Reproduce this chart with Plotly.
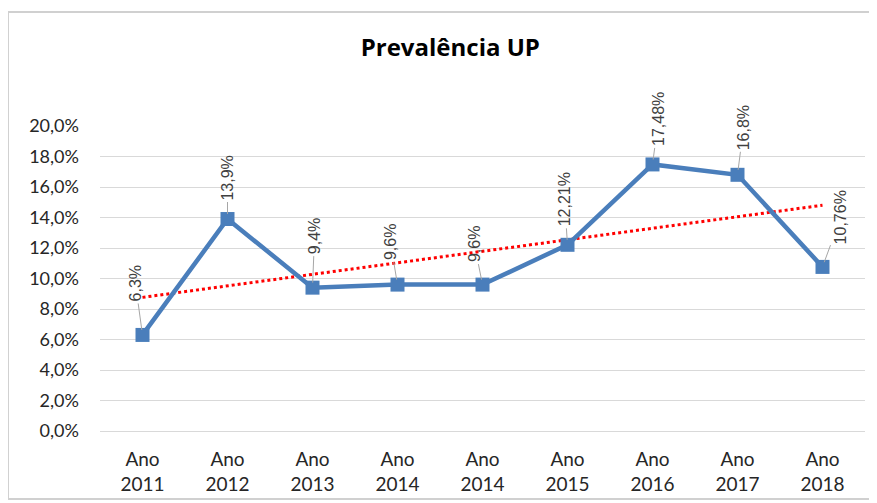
import numpy as np
import plotly.graph_objects as go

categories = ["Ano 2011", "Ano 2012", "Ano 2013", "Ano 2014", "Ano 2014",
              "Ano 2015", "Ano 2016", "Ano 2017", "Ano 2018"]
values = [6.3, 13.9, 9.4, 9.6, 9.6, 12.21, 17.48, 16.8, 10.76]
value_labels = ["6,3%", "13,9%", "9,4%", "9,6%", "9,6%", "12,21%", "17,48%", "16,8%", "10,76%"]
y_ticks = [0, 2, 4, 6, 8, 10, 12, 14, 16, 18, 20]
y_tick_labels = ["0,0%", "2,0%", "4,0%", "6,0%", "8,0%", "10,0%", "12,0%",
                 "14,0%", "16,0%", "18,0%", "20,0%"]
title = "Prevalência UP"

# label offsets (pixels) for the rotated data labels
label_dx = [-7, 0, 2, -7, -8, -3, 6, 6, 18]
label_dy = [-51, -41, -51, -42, -40, -45, -45, -47, -49]

x = list(range(len(categories)))
tick_text = [c.replace(" ", "<br>") for c in categories]

slope, intercept = np.polyfit(x, values, 1)
trend = [slope * xi + intercept for xi in x]

fig = go.Figure()
fig.add_trace(go.Scatter(
    x=x, y=trend, mode="lines",
    line=dict(color="#ff0000", width=3, dash="dot"),
    hoverinfo="skip", showlegend=False))
fig.add_trace(go.Scatter(
    x=x, y=values, mode="lines+markers",
    line=dict(color="#4a7ebb", width=4.5),
    marker=dict(symbol="square", size=14, color="#4a7ebb"),
    showlegend=False))

for xi, v, lab, dx, dy in zip(x, values, value_labels, label_dx, label_dy):
    fig.add_annotation(
        x=xi, y=v, xref="x", yref="y", text=lab, textangle=-90,
        showarrow=True, arrowhead=0, arrowwidth=1, arrowcolor="#a6a6a6",
        ax=dx, ay=dy, standoff=5,
        font=dict(family="Liberation Sans, Arial, sans-serif", size=16, color="#404040"))

fig.add_shape(type="rect", xref="paper", yref="paper",
              x0=-0.1203, x1=1.0144, y0=-0.223, y1=1.3738,
              line=dict(color="#d0d0d0", width=2), layer="below")

fig.update_layout(
    width=869, height=495,
    margin=dict(l=92, r=12, t=118, b=72),
    paper_bgcolor="white", plot_bgcolor="white",
    title=dict(text="<b>" + title + "</b>", x=0.509, xanchor="center", y=0.921, yanchor="middle",
               font=dict(family="Open Sans, sans-serif", size=24, color="#000000")),
    font=dict(family="Lato, sans-serif"),
)
fig.update_xaxes(
    range=[-0.5, len(categories) - 0.5], tickmode="array", tickvals=x, ticktext=tick_text,
    showgrid=False, showline=True, linecolor="#d9d9d9", linewidth=1, ticks="",
    tickfont=dict(family="Lato, sans-serif", size=19, color="#262626"),
    ticklabelstandoff=11, zeroline=False, fixedrange=True, automargin=False)
fig.update_yaxes(
    range=[0, 20], tickmode="array", tickvals=y_ticks, ticktext=y_tick_labels,
    showgrid=True, gridcolor="#d9d9d9", gridwidth=1, zeroline=False, showline=False,
    tickfont=dict(family="Lato, sans-serif", size=18, color="#262626"),
    ticklabelstandoff=20, fixedrange=True, automargin=False)

fig.write_html("out.html")
